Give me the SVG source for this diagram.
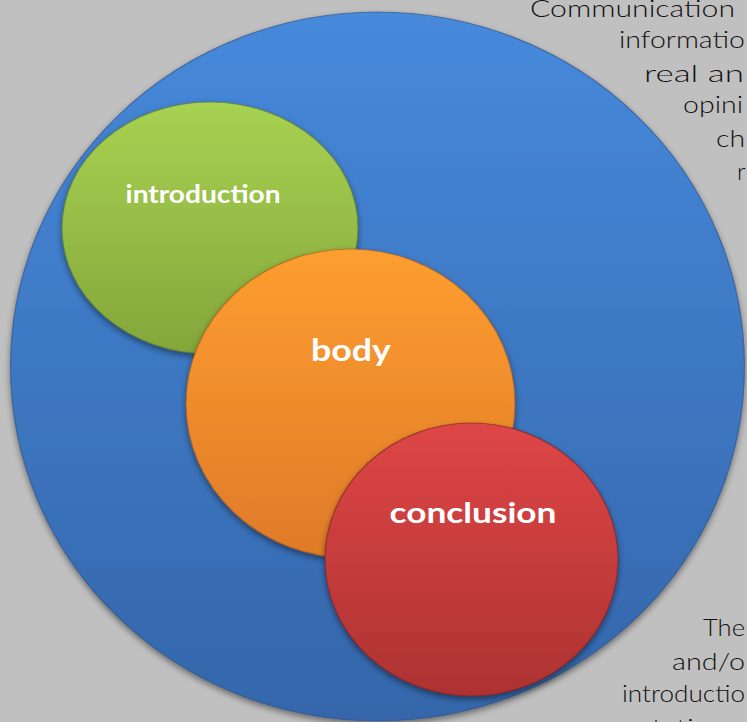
<svg xmlns="http://www.w3.org/2000/svg" width="747" height="722" viewBox="0 0 747 722">
<defs>
<linearGradient id="gBlue" x1="0" y1="0" x2="0" y2="1"><stop offset="0" stop-color="#4689db"/><stop offset="1" stop-color="#3466aa"/></linearGradient>
<linearGradient id="gGreen" x1="0" y1="0" x2="0" y2="1"><stop offset="0" stop-color="#a8d252"/><stop offset="1" stop-color="#84a63a"/></linearGradient>
<linearGradient id="gOrange" x1="0" y1="0" x2="0" y2="1"><stop offset="0" stop-color="#fd9e30"/><stop offset="1" stop-color="#df7a28"/></linearGradient>
<linearGradient id="gRed" x1="0" y1="0" x2="0" y2="1"><stop offset="0" stop-color="#de4646"/><stop offset="1" stop-color="#ae3232"/></linearGradient>
<filter id="sh" x="-10%" y="-10%" width="120%" height="125%"><feDropShadow dx="0" dy="3" stdDeviation="3" flood-color="#000" flood-opacity="0.45"/></filter>
<style>
.lbl{font-family:"Lato","Liberation Sans",sans-serif;font-weight:bold;fill:#ffffff;text-anchor:middle}
.side{font-family:"Lato","Liberation Sans",sans-serif;font-weight:300;font-size:24px;fill:#111111}
.edge{stroke-width:1.2;stroke-opacity:0.6}
</style>
</defs>
<rect width="747" height="722" fill="#c0c0c0"/>
<g id="side-text">
<text class="side" x="530" y="17" textLength="205" lengthAdjust="spacingAndGlyphs">Communication</text>
<text class="side" x="619" y="48" textLength="126" lengthAdjust="spacingAndGlyphs">informatio</text>
<text class="side" x="644" y="82" textLength="100" lengthAdjust="spacingAndGlyphs">real  an</text>
<text class="side" x="683" y="113" textLength="60" lengthAdjust="spacingAndGlyphs">opini</text>
<text class="side" x="716" y="147" textLength="29" lengthAdjust="spacingAndGlyphs">ch</text>
<text class="side" x="737" y="180">r</text>
<text class="side" x="703" y="636" textLength="42" lengthAdjust="spacingAndGlyphs">The</text>
<text class="side" x="672" y="670" textLength="73" lengthAdjust="spacingAndGlyphs">and/o</text>
<text class="side" x="622" y="702" textLength="123" lengthAdjust="spacingAndGlyphs">introductio</text>
<text class="side" x="565" y="736" textLength="162" lengthAdjust="spacingAndGlyphs">presentation</text>
</g>
<g id="outer">
<ellipse cx="377.5" cy="366.5" rx="367" ry="354.5" fill="url(#gBlue)" stroke="#2a4f85" class="edge" filter="url(#sh)"/>
</g>
<g id="introduction">
<ellipse cx="210" cy="228" rx="148" ry="126" fill="url(#gGreen)" stroke="#5f7a28" class="edge" filter="url(#sh)"/>
<text class="lbl" x="203" y="203" font-size="24" textLength="155" lengthAdjust="spacingAndGlyphs">introduction</text>
</g>
<g id="body">
<ellipse cx="350.5" cy="403.5" rx="164.5" ry="154.5" fill="url(#gOrange)" stroke="#a85a1a" class="edge" filter="url(#sh)"/>
<text class="lbl" x="351" y="361" font-size="30" textLength="80" lengthAdjust="spacingAndGlyphs">body</text>
</g>
<g id="conclusion">
<ellipse cx="471.5" cy="559.5" rx="146.5" ry="136.5" fill="url(#gRed)" stroke="#7a2020" class="edge" filter="url(#sh)"/>
<text class="lbl" x="473" y="523" font-size="29" textLength="167" lengthAdjust="spacingAndGlyphs">conclusion</text>
</g>
<g id="connectors"/>
</svg>
